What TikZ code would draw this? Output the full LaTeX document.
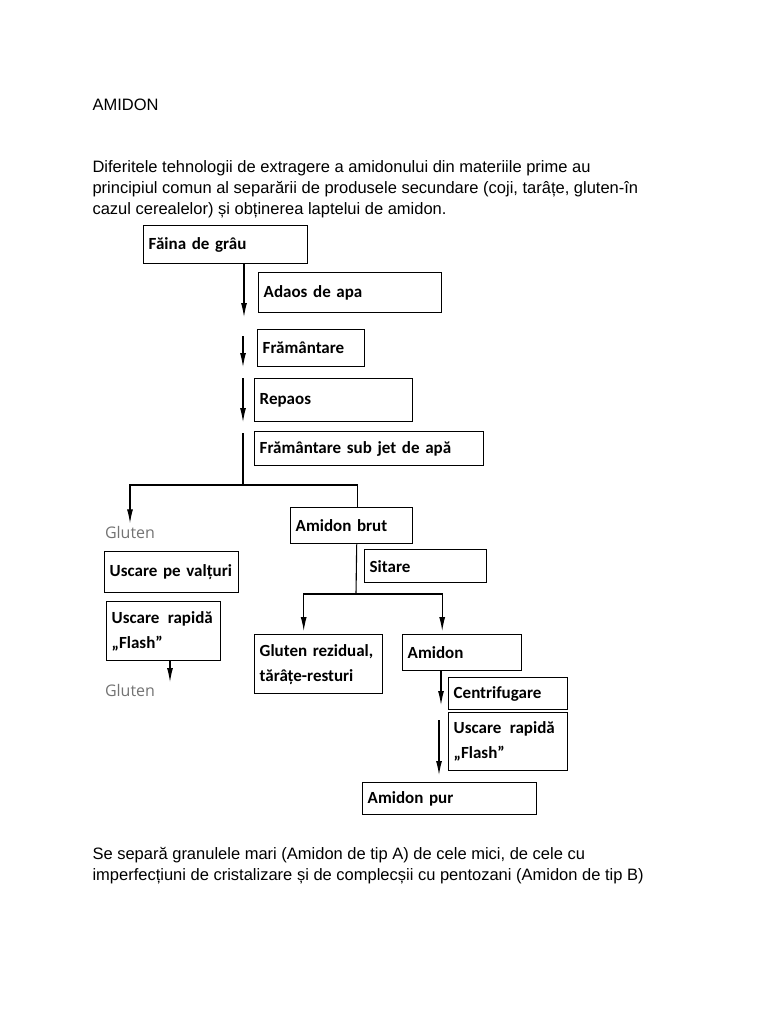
\documentclass[tikz,border=0pt]{standalone}
\usepackage{fontspec}
\setmainfont{Liberation Sans}
\newfontfamily\boxfont{Carlito}
\newfontfamily\glfont{Open Sans}
\usetikzlibrary{arrows.meta}

\tikzset{
  box/.style 2 args={draw,line width=1.4pt,anchor=north west,align=left,
    inner xsep=5pt,inner ysep=0pt,text width=#1,minimum height=#2,
    font=\boxfont\bfseries\fontsize{17}{25}\selectfont},
  gl/.style={inner sep=2pt,text=black!55,font=\glfont\fontsize{16}{18}\selectfont},
  par/.style={anchor=north west,inner sep=0pt,align=left,
    font=\fontsize{16.5}{21}\selectfont}
}

\begin{document}
\begin{tikzpicture}[x=1pt,y=-1pt,>={Latex[length=14pt,width=6pt]},line width=1.1pt]

    \useasboundingbox (0,0) rectangle (768,1024);

    \node[par] (T) at (92,98) {AMIDON};
    \node[par] (P1) at (92,160) {Diferitele tehnologii de extragere a amidonului din materiile prime au\\
      principiul comun al separării de produsele secundare (coji, tarâțe, gluten-în\\
      cazul cerealelor) și obținerea laptelui de amidon.};

    \node[box={154pt}{38pt}] (FG) at (143,225) {Făina de grâu};
    \node[box={173pt}{40pt}] (AA) at (258,272) {Adaos de apa};
    \node[box={97pt}{37pt}] (FR) at (257,329) {Frământare};
    \node[box={148pt}{43pt}] (RP) at (254,378) {Repaos};
    \node[box={219pt}{34pt}] (FJ) at (254,431) {Frământare sub jet de apă};

    \coordinate (a1) at (244,317);
    \draw[->] (FG.south -| a1) -- (a1);
    \coordinate (a2s) at (243,336);
    \coordinate (a2e) at (243,367);
    \draw[->] (a2s) -- (a2e);
    \coordinate (a3s) at (243,378);
    \coordinate (a3e) at (243,422);
    \draw[->] (a3s) -- (a3e);

    \node[gl] (G1) at (130,532) {Gluten};
    \node[box={112pt}{36pt}] (AB) at (290,507) {Amidon brut};
    \node[box={112pt}{33pt}] (SI) at (364,549) {Sitare};

    \coordinate (a4) at (243,433);
    \coordinate (sp) at (243,485);
    \draw (a4) -- (sp);
    \draw[->] (sp) -| (G1.north);
    \draw (sp) -| ([xshift=6pt]AB.north);

    \node[box={124pt}{41pt}] (UV) at (104,551) {Uscare pe valțuri};
    \node[box={104pt}{59pt}] (UF) at (106,601) {Uscare\enspace rapidă\\„Flash”};
    \node[gl] (G2) at (130,690) {Gluten};
    \coordinate (a7) at (170,682);
    \draw[->] (UF.south -| a7) -- (a7);

    \node[box={118pt}{59pt}] (GR) at (254,634) {Gluten rezidual,\\tărâțe-resturi};
    \node[box={109pt}{36pt}] (AM) at (402,634) {Amidon};

    \coordinate (sp2) at (356,594);
    \draw ([xshift=5pt]AB.south) -- (sp2);
    \draw[->,shorten >=3pt] (sp2) -| ([xshift=-15pt]GR.north);
    \draw[->,shorten >=3pt] (sp2) -| ([xshift=-20pt]AM.north);

    \node[box={109pt}{32pt}] (CE) at (448,677) {Centrifugare};
    \node[box={109pt}{58pt}] (UF2) at (448,712) {Uscare\enspace rapidă\\„Flash”};
    \node[box={164pt}{32pt}] (AP) at (362,782) {Amidon pur};

    \coordinate (a5) at (441,705);
    \draw[->] (AM.south -| a5) -- (a5);
    \coordinate (a6s) at (439,720);
    \coordinate (a6e) at (439,775);
    \draw[->] (a6s) -- (a6e);

    \node[par] (P2) at (92,847) {Se separă granulele mari (Amidon de tip A) de cele mici, de cele cu\\
      imperfecțiuni de cristalizare și de complecșii cu pentozani (Amidon de tip B)};

\end{tikzpicture}
\end{document}
